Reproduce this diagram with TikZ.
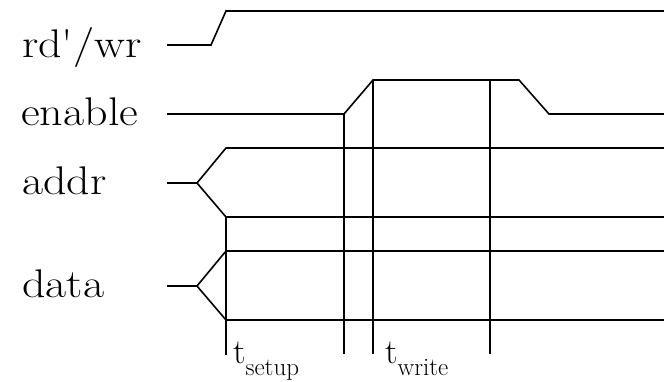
\documentclass[tikz,border=0pt]{standalone}
\usepackage{fontspec}
\usepackage{graphicx}
\begin{document}
\begin{tikzpicture}[x=1pt,y=-1pt,
  sig/.style={line width=1.6pt,line join=miter},
  lbl/.style={anchor=base west,inner sep=0pt,font=\fontsize{40}{40}\selectfont},
  tlbl/.style={anchor=base west,inner sep=0pt,font=\fontsize{35}{35}\selectfont}]
\useasboundingbox[fill=white] (0,0) rectangle (664,381);
% labels
\node[lbl] (rw) at (22,57) {\scalebox{1.15}[1]{rd\textquotesingle/wr}};
\node[lbl] (en) at (21,125) {\scalebox{1.15}[1]{enable}};
\node[lbl] (ad) at (22,194) {\scalebox{1.15}[1]{addr}};
\node[lbl] (da) at (22,297) {\scalebox{1.15}[1]{data}};
\node[tlbl] (ts) at (233,363) {t\raisebox{-12pt}{\fontsize{25}{25}\selectfont setup}};
\node[tlbl] (tw) at (385,363) {t\raisebox{-12pt}{\fontsize{25}{25}\selectfont write}};
% coordinates
\coordinate (rw0) at (167,45);
\coordinate (rw1) at (211,45);
\coordinate (rw2) at (226,11);
\coordinate (rw3) at (664,11);
\coordinate (en0) at (167,114);
\coordinate (en1) at (344,114);
\coordinate (en2) at (373,80);
\coordinate (en3) at (519,80);
\coordinate (en4) at (549,114);
\coordinate (en5) at (664,114);
\coordinate (ad0) at (167,183);
\coordinate (ad1) at (197,183);
\coordinate (adh) at (226,148);
\coordinate (adl) at (226,217);
\coordinate (adhe) at (664,148);
\coordinate (adle) at (664,217);
\coordinate (da0) at (167,286);
\coordinate (da1) at (197,286);
\coordinate (dah) at (226,251);
\coordinate (dal) at (226,320);
\coordinate (dahe) at (664,251);
\coordinate (dale) at (664,320);
\coordinate (v1b) at (226,355);
\coordinate (v2b) at (344,354);
\coordinate (v3b) at (373,354);
\coordinate (v4t) at (490,80);
\coordinate (v4b) at (490,354);
% waveforms
\draw[sig] (rw0) -- (rw1) -- (rw2) -- (rw3);
\draw[sig] (en0) -- (en1) -- (en2) -- (en3) -- (en4) -- (en5);
\draw[sig] (ad0) -- (ad1) -- (adh) -- (adhe);
\draw[sig] (ad1) -- (adl) -- (adle);
\draw[sig] (da0) -- (da1) -- (dah) -- (dahe);
\draw[sig] (da1) -- (dal) -- (dale);
% timing markers
\draw[sig] (adl) -- (v1b);
\draw[sig] (en1) -- (v2b);
\draw[sig] (en2) -- (v3b);
\draw[sig] (v4t) -- (v4b);
\end{tikzpicture}
\end{document}
